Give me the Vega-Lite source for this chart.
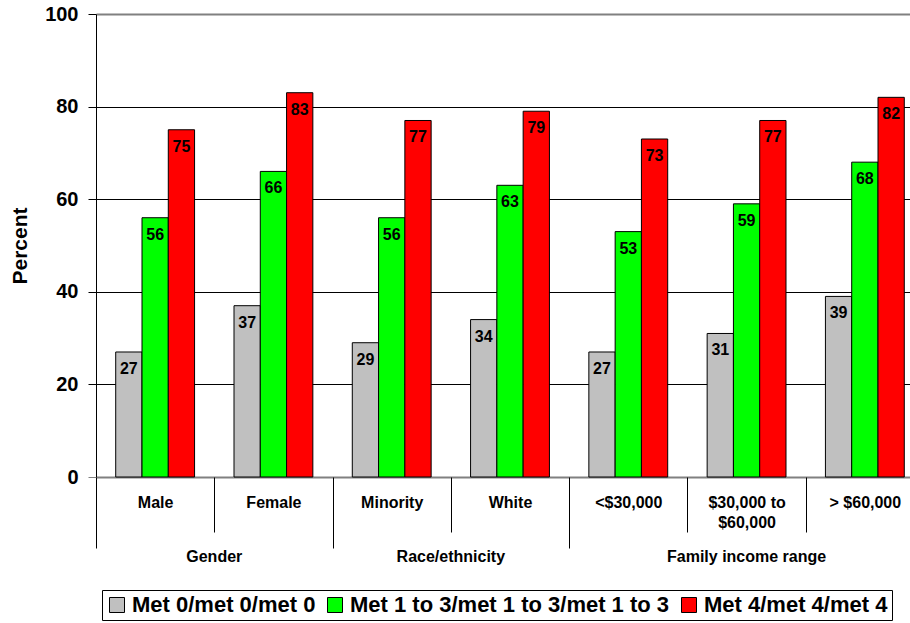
{
  "$schema": "https://vega.github.io/schema/vega-lite/v6.json",
  "autosize": {"type": "none"},
  "padding": {"left": 96, "top": 14, "right": 0, "bottom": 146},
  "width": 814,
  "height": 463,
  "background": "white",
  "config": {"view": {"stroke": null}, "font": "Liberation Sans"},
  "data": {
    "values": [
      {"group": "Gender", "category": "Male", "series": "Met 0/met 0/met 0", "value": 27},
      {"group": "Gender", "category": "Male", "series": "Met 1 to 3/met 1 to 3/met 1 to 3", "value": 56},
      {"group": "Gender", "category": "Male", "series": "Met 4/met 4/met 4", "value": 75},
      {"group": "Gender", "category": "Female", "series": "Met 0/met 0/met 0", "value": 37},
      {"group": "Gender", "category": "Female", "series": "Met 1 to 3/met 1 to 3/met 1 to 3", "value": 66},
      {"group": "Gender", "category": "Female", "series": "Met 4/met 4/met 4", "value": 83},
      {"group": "Race/ethnicity", "category": "Minority", "series": "Met 0/met 0/met 0", "value": 29},
      {"group": "Race/ethnicity", "category": "Minority", "series": "Met 1 to 3/met 1 to 3/met 1 to 3", "value": 56},
      {"group": "Race/ethnicity", "category": "Minority", "series": "Met 4/met 4/met 4", "value": 77},
      {"group": "Race/ethnicity", "category": "White", "series": "Met 0/met 0/met 0", "value": 34},
      {"group": "Race/ethnicity", "category": "White", "series": "Met 1 to 3/met 1 to 3/met 1 to 3", "value": 63},
      {"group": "Race/ethnicity", "category": "White", "series": "Met 4/met 4/met 4", "value": 79},
      {"group": "Family income range", "category": "<$30,000", "series": "Met 0/met 0/met 0", "value": 27},
      {"group": "Family income range", "category": "<$30,000", "series": "Met 1 to 3/met 1 to 3/met 1 to 3", "value": 53},
      {"group": "Family income range", "category": "<$30,000", "series": "Met 4/met 4/met 4", "value": 73},
      {"group": "Family income range", "category": "$30,000 to $60,000", "series": "Met 0/met 0/met 0", "value": 31},
      {"group": "Family income range", "category": "$30,000 to $60,000", "series": "Met 1 to 3/met 1 to 3/met 1 to 3", "value": 59},
      {"group": "Family income range", "category": "$30,000 to $60,000", "series": "Met 4/met 4/met 4", "value": 77},
      {"group": "Family income range", "category": "> $60,000", "series": "Met 0/met 0/met 0", "value": 39},
      {"group": "Family income range", "category": "> $60,000", "series": "Met 1 to 3/met 1 to 3/met 1 to 3", "value": 68},
      {"group": "Family income range", "category": "> $60,000", "series": "Met 4/met 4/met 4", "value": 82}
    ]
  },
  "layer": [
    {
      "mark": {"type": "bar", "stroke": "black", "strokeWidth": 1},
      "encoding": {
        "x": {
          "field": "category", "type": "nominal",
          "sort": ["Male", "Female", "Minority", "White", "<$30,000", "$30,000 to $60,000", "> $60,000"],
          "scale": {"type": "band", "range": [0, 828], "paddingInner": 0, "paddingOuter": 0},
          "axis": {
            "orient": "bottom", "title": null, "domain": false, "grid": false, "ticks": true,
            "tickBand": "extent", "tickColor": "black", "tickWidth": 1,
            "tickSize": {"condition": {"test": "indexof(['Male','Minority','<$30,000','$30,000 to $60,000'], datum.value) >= 0", "value": 55}, "value": 71},
            "labelPadding": {"condition": {"test": "indexof(['Male','Minority','<$30,000','$30,000 to $60,000'], datum.value) >= 0", "value": -38}, "value": -54},
            "labelAngle": 0, "labelFont": "Liberation Sans", "labelFontSize": 16, "labelFontWeight": "bold",
            "labelColor": "black", "labelBaseline": "top", "labelLineHeight": 20, "labelLimit": 300, "labelOverlap": false,
            "labelExpr": "datum.value == '$30,000 to $60,000' ? ['$30,000 to', '$60,000'] : datum.value"
          }
        },
        "xOffset": {
          "field": "series", "type": "nominal",
          "sort": ["Met 0/met 0/met 0", "Met 1 to 3/met 1 to 3/met 1 to 3", "Met 4/met 4/met 4"],
          "scale": {"paddingInner": 0, "paddingOuter": 0.75}
        },
        "y": {
          "field": "value", "type": "quantitative",
          "scale": {"domain": [0, 100], "nice": false},
          "axis": {
            "title": "Percent", "titleFont": "Liberation Sans", "titleFontSize": 21, "titleFontWeight": "bold",
            "titleColor": "black", "titlePadding": 14,
            "values": [0, 20, 40, 60, 80, 100],
            "labelFont": "Liberation Sans", "labelFontSize": 20, "labelFontWeight": "bold", "labelColor": "black",
            "labelPadding": 10, "tickSize": 8,
            "tickColor": {"condition": {"test": "datum.value == 0", "value": "#808080"}, "value": "black"},
            "domainColor": "black", "domainWidth": 1,
            "grid": true,
            "gridColor": {"condition": {"test": "datum.value == 0 || datum.value == 100", "value": "#808080"}, "value": "black"},
            "gridWidth": {"condition": {"test": "datum.value == 0 || datum.value == 100", "value": 2}, "value": 1},
            "gridOpacity": 1
          }
        },
        "color": {
          "field": "series", "type": "nominal",
          "scale": {
            "domain": ["Met 0/met 0/met 0", "Met 1 to 3/met 1 to 3/met 1 to 3", "Met 4/met 4/met 4"],
            "range": ["#C0C0C0", "#00FF00", "#FF0000"]
          },
          "legend": {
            "orient": "none", "legendX": 6, "legendY": 576, "direction": "horizontal", "title": null,
            "symbolType": "square", "symbolSize": 225, "symbolStrokeColor": "black", "symbolStrokeWidth": 1,
            "labelFont": "Liberation Sans", "labelFontSize": 22, "labelFontWeight": "bold", "labelColor": "black",
            "labelOffset": 4, "columnPadding": 8, "padding": 4, "strokeColor": "black", "fillColor": "white",
            "labelLimit": 500
          }
        }
      }
    },
    {
      "mark": {"type": "text", "baseline": "middle", "dy": 17, "fontSize": 16, "fontWeight": "bold", "font": "Liberation Sans", "color": "black"},
      "encoding": {
        "x": {
          "field": "category", "type": "nominal",
          "sort": ["Male", "Female", "Minority", "White", "<$30,000", "$30,000 to $60,000", "> $60,000"],
          "axis": {
            "orient": "bottom", "title": null, "domain": false, "grid": false, "ticks": false,
            "values": ["Female", "White", "$30,000 to $60,000"],
            "labelExpr": "datum.value == 'Female' ? 'Gender' : datum.value == 'White' ? 'Race/ethnicity' : 'Family income range'",
            "labelOffset": {"condition": {"test": "datum.value == '$30,000 to $60,000'", "value": 0}, "value": -59.15},
            "labelPadding": 71, "labelBaseline": "top", "labelAngle": 0,
            "labelFont": "Liberation Sans", "labelFontSize": 16, "labelFontWeight": "bold", "labelColor": "black",
            "labelLimit": 300, "labelOverlap": false
          }
        },
        "xOffset": {
          "field": "series", "type": "nominal",
          "sort": ["Met 0/met 0/met 0", "Met 1 to 3/met 1 to 3/met 1 to 3", "Met 4/met 4/met 4"]
        },
        "y": {"field": "value", "type": "quantitative"},
        "text": {"field": "value", "type": "quantitative"}
      }
    }
  ],
  "resolve": {"axis": {"x": "independent"}}
}
